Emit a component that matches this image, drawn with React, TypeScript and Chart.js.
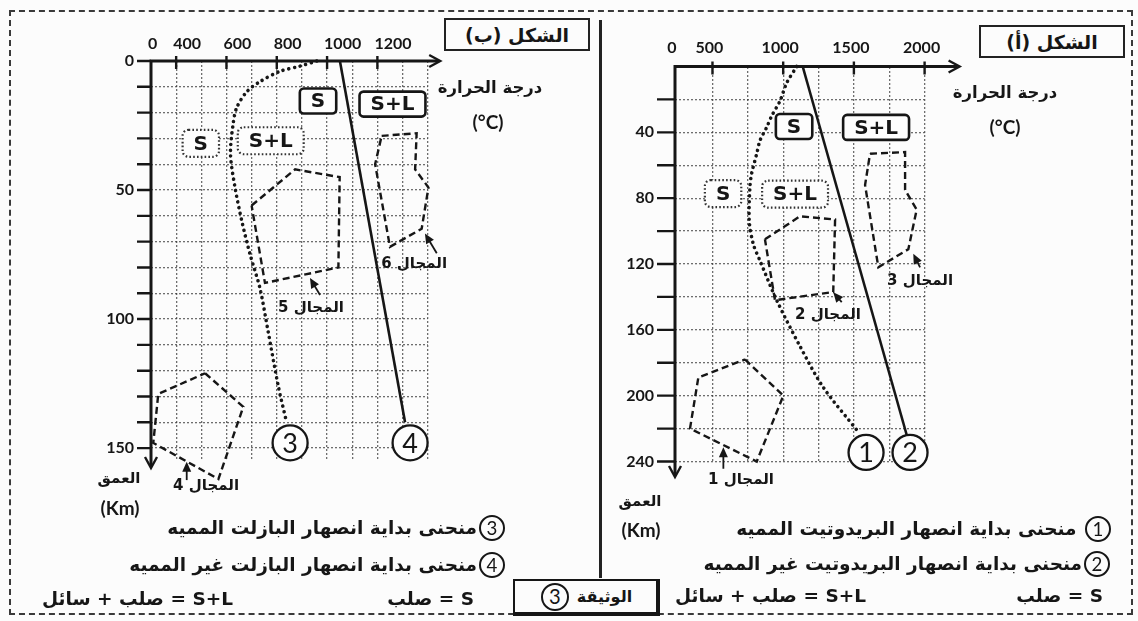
import React, { useEffect, useRef } from 'react';
import { Chart, registerables } from 'chart.js';

Chart.register(...registerables);

// ================= Figure (ب) : basalt =================
const xTicksB = [300, 400, 500, 600, 700, 800, 900, 1000, 1100, 1200, 1300, 1400];
const xLabelValsB = [300, 400, 600, 800, 1000, 1200];
const xLabelsB = ['0', '400', '600', '800', '1000', '1200'];
const xMarksB = [400, 600, 800, 1000, 1200];
const yTicksB = [0, 10, 20, 30, 40, 50, 60, 70, 80, 90, 100, 110, 120, 130, 140, 150];
const yLabelValsB = [0, 50, 100, 150];

// curve 3 : hydrated basalt solidus (dotted)
const curve3T = [959, 892, 813, 733, 680, 641, 627, 616, 634, 661, 694, 733, 766, 806, 839];
const curve3D = [0, 2, 4, 8, 12, 18, 24, 36, 49, 62, 75, 88, 105, 126, 140];
// curve 4 : dry basalt solidus (solid)
const line4T = [1051, 1310];
const line4D = [0, 140];
// zones
const zone4T = [515, 667, 568, 309, 329];
const zone4D = [121, 134, 162, 148, 129];
const zone5T = [700, 873, 1050, 1045, 753];
const zone5D = [56, 42, 45, 80, 86];
const zone6T = [1217, 1356, 1350, 1403, 1376, 1250, 1191];
const zone6D = [29, 28, 42, 49, 65, 72, 40];

const boxesB = [
  { text: 'S', t: 964, d: 15.5, dotted: false },
  { text: 'S+L', t: 1260, d: 16.7, dotted: false },
  { text: 'S', t: 498, d: 31.9, dotted: true },
  { text: 'S+L', t: 776, d: 30.9, dotted: true },
];
const circlesB = [
  { text: '3', t: 853, d: 148 },
  { text: '4', t: 1330, d: 148 },
];
const notesB = [
  { text: 'المجال 5', t: 936, d: 95.7, ft: 972, fd: 90.7, tt: 932, td: 84.1 },
  { text: 'المجال 6', t: 1346, d: 78.7, ft: 1436, fd: 74.5, tt: 1389, td: 66.8 },
  { text: 'المجال 4', t: 519, d: 164.7, ft: 442, fd: 162.4, tt: 442, td: 155.3 },
];

// ================= Figure (أ) : peridotite =================
const xTicksA = [235, 500, 750, 1000, 1250, 1500, 1750, 2000];
const xLabelValsA = [235, 500, 1000, 1500, 2000];
const xLabelsA = ['0', '500', '1000', '1500', '2000'];
const xMarksA = [500, 1000, 1500, 2000];
const yTicksA = [0, 20, 40, 60, 80, 100, 120, 140, 160, 180, 200, 220, 240];
const yLabelValsA = [40, 80, 120, 160, 200, 240];
const yMarksA = [20, 40, 60, 80, 100, 120, 140, 160, 180, 200, 220, 240];

// curve 1 : hydrated peridotite solidus (dotted)
const curve1T = [1096, 1025, 977, 919, 883, 836, 813, 777, 765, 760, 789, 836, 954, 1119, 1284, 1531];
const curve1D = [0, 10, 21, 30, 37, 45, 53, 65, 73, 94, 108, 118, 142, 170, 195, 222];
// curve 2 : dry peridotite solidus (solid)
const line2T = [1138, 1887];
const line2D = [0, 228];
// zones
const zone1T = [730, 1001, 813, 341, 400];
const zone1D = [178, 200, 240, 220, 189];
const zone2T = [871, 1119, 1367, 1354, 942];
const zone2D = [105, 91, 93, 137, 142];
const zone3T = [1614, 1862, 1862, 1944, 1885, 1673, 1579];
const zone3D = [53, 52, 75, 87, 111, 122, 72];

const boxesA = [
  { text: 'S', t: 1077, d: 36.5, dotted: false },
  { text: 'S+L', t: 1657, d: 37, dotted: false },
  { text: 'S', t: 575, d: 77.2, dotted: true },
  { text: 'S+L', t: 1084, d: 77.6, dotted: true },
];
const circlesA = [
  { text: '1', t: 1586, d: 234.5 },
  { text: '2', t: 1897, d: 234.5 },
];
const notesA = [
  { text: 'المجال 2', t: 1317, d: 151.3, ft: 1414, fd: 143.2, tt: 1354, td: 137.1 },
  { text: 'المجال 3', t: 1968, d: 130.6, ft: 1968, fd: 122, tt: 1920, td: 113.8 },
  { text: 'المجال 1', t: 702, d: 251.5, ft: 577, fd: 244.4, tt: 577, td: 231.3 },
];

// ================= styling =================
const INK = '#161616';
const GRID = 'rgba(50,50,50,0.7)';
const AR = '"DejaVu Sans", sans-serif';
const NUM = 'Lato, "DejaVu Sans", sans-serif';

const pts = (T: number[], D: number[], close = false) => {
  const p = T.map((t, i) => ({ x: t, y: D[i] }));
  if (close) p.push({ x: T[0], y: D[0] });
  return p;
};
const dottedCurve = (T: number[], D: number[]) => ({
  data: pts(T, D), showLine: true, pointRadius: 0, borderColor: INK, borderWidth: 3.6,
  borderDash: [0.01, 5.8], borderCapStyle: 'round', tension: 0.3, clip: false,
});
const solidLine = (T: number[], D: number[]) => ({
  data: pts(T, D), showLine: true, pointRadius: 0, borderColor: INK, borderWidth: 2.6,
  tension: 0, clip: false,
});
const dashedZone = (T: number[], D: number[]) => ({
  data: pts(T, D, true), showLine: true, pointRadius: 0, borderColor: INK, borderWidth: 2.4,
  borderDash: [7, 4], tension: 0, clip: false, borderJoinStyle: 'miter',
});

function decorPlugin(cfg: any) {
  return {
    id: 'decor' + cfg.key,
    afterDatasetsDraw(chart: any) {
      const { ctx, chartArea: a } = chart;
      const xs = chart.scales.x, ys = chart.scales.y;
      const px = (v: number) => xs.getPixelForValue(v);
      const py = (v: number) => ys.getPixelForValue(v);
      ctx.save();
      ctx.setLineDash([]);
      ctx.strokeStyle = INK;
      ctx.fillStyle = INK;
      // tick marks
      ctx.lineWidth = 2.4;
      ctx.beginPath();
      cfg.xMarks.forEach((v: number) => { const x = px(v); ctx.moveTo(x, a.top - 5); ctx.lineTo(x, a.top + 8); });
      cfg.yMarks.forEach((v: number) => { const y = py(v); ctx.moveTo(a.left - cfg.yTickLen, y); ctx.lineTo(a.left, y); });
      ctx.stroke();
      // axes
      const xe = a.right + cfg.extX, ye = a.bottom + cfg.extY;
      ctx.lineWidth = 3;
      ctx.beginPath();
      ctx.moveTo(a.left - 1.5, a.top); ctx.lineTo(xe - 2, a.top);
      ctx.moveTo(a.left, a.top - 1.5); ctx.lineTo(a.left, ye - 2);
      ctx.stroke();
      ctx.lineWidth = 2.4;
      ctx.beginPath(); ctx.moveTo(xe - 11, a.top - 6); ctx.lineTo(xe, a.top); ctx.lineTo(xe - 11, a.top + 6); ctx.stroke();
      ctx.beginPath(); ctx.moveTo(a.left - 6, ye - 11); ctx.lineTo(a.left, ye); ctx.lineTo(a.left + 6, ye - 11); ctx.stroke();
      // boxes
      ctx.font = 'bold 20px ' + AR;
      ctx.textAlign = 'center';
      ctx.textBaseline = 'middle';
      cfg.boxes.forEach((b: any) => {
        const cx = px(b.t), cy = py(b.d);
        const tw = ctx.measureText(b.text).width;
        const w = tw + 22, h = b.dotted ? 27 : 25;
        ctx.beginPath();
        ctx.roundRect(cx - w / 2, cy - h / 2, w, h, b.dotted ? 6 : 4);
        ctx.fillStyle = '#fdfdfd';
        ctx.fill();
        ctx.lineWidth = b.dotted ? 2.2 : 2.6;
        ctx.setLineDash(b.dotted ? [1.6, 2.2] : []);
        ctx.strokeStyle = b.dotted ? '#333' : INK;
        ctx.stroke();
        ctx.setLineDash([]);
        ctx.fillStyle = INK;
        ctx.fillText(b.text, cx, cy + 1);
      });
      // circles
      cfg.circles.forEach((c: any) => {
        const cx = px(c.t), cy = py(c.d);
        ctx.beginPath();
        ctx.arc(cx, cy, 17.5, 0, Math.PI * 2);
        ctx.fillStyle = '#fdfdfd';
        ctx.fill();
        ctx.lineWidth = 2.3;
        ctx.strokeStyle = INK;
        ctx.stroke();
        ctx.fillStyle = INK;
        ctx.font = '27px ' + NUM;
        ctx.fillText(c.text, cx, cy + 1);
      });
      // notes with arrows
      cfg.notes.forEach((n: any) => {
        ctx.font = 'bold 15px ' + AR;
        ctx.direction = 'rtl';
        ctx.fillStyle = INK;
        ctx.fillText(n.text, px(n.t), py(n.d));
        ctx.direction = 'ltr';
        const x1 = px(n.ft), y1 = py(n.fd), x2 = px(n.tt), y2 = py(n.td);
        const ang = Math.atan2(y2 - y1, x2 - x1);
        ctx.lineWidth = 1.8;
        ctx.beginPath(); ctx.moveTo(x1, y1); ctx.lineTo(x2 - Math.cos(ang) * 5, y2 - Math.sin(ang) * 5); ctx.stroke();
        ctx.beginPath();
        ctx.moveTo(x2, y2);
        ctx.lineTo(x2 - Math.cos(ang) * 10 + Math.sin(ang) * 4.5, y2 - Math.sin(ang) * 10 - Math.cos(ang) * 4.5);
        ctx.lineTo(x2 - Math.cos(ang) * 10 - Math.sin(ang) * 4.5, y2 - Math.sin(ang) * 10 + Math.cos(ang) * 4.5);
        ctx.closePath();
        ctx.fill();
      });
      ctx.restore();
    },
  };
}

function buildChart(canvas: HTMLCanvasElement, spec: any) {
  return new Chart(canvas, {
    type: 'scatter',
    data: { datasets: spec.datasets },
    options: {
      responsive: false,
      animation: false,
      events: [],
      layout: { padding: spec.padding },
      plugins: { legend: { display: false }, tooltip: { enabled: false } },
      scales: {
        x: {
          type: 'linear', position: 'top', min: spec.xMin, max: spec.xMax,
          afterBuildTicks: (s: any) => { s.ticks = spec.xTicks.map((v: number) => ({ value: v })); },
          afterFit: (s: any) => { s.height = 40; },
          grid: {
            color: (c: any) => (c.tick && c.tick.value === spec.xMin ? 'rgba(0,0,0,0)' : GRID),
            lineWidth: 1.3, drawTicks: false,
          },
          border: { display: false, dash: [2, 2] },
          ticks: {
            autoSkip: false, maxRotation: 0, minRotation: 0, padding: spec.xPad, align: spec.xAlign,
            labelOffset: spec.xLabelOffset, color: INK,
            font: { family: NUM, size: 16, weight: 'bold' },
            callback: (v: any) => { const i = spec.xLabelVals.indexOf(v); return i >= 0 ? spec.xLabels[i] : ''; },
          },
        },
        y: {
          type: 'linear', reverse: true, min: 0, max: spec.yMax,
          afterBuildTicks: (s: any) => { s.ticks = spec.yTicks.map((v: number) => ({ value: v })); },
          afterFit: (s: any) => { s.width = spec.yAxisW; },
          grid: {
            color: (c: any) => (c.tick && c.tick.value === 0 ? 'rgba(0,0,0,0)' : GRID),
            lineWidth: 1.3, drawTicks: false,
          },
          border: { display: false, dash: [2, 2] },
          ticks: {
            autoSkip: false, padding: spec.yPad, color: INK,
            font: { family: NUM, size: 16, weight: 'bold' },
            callback: (v: any) => (spec.yLabelVals.includes(v) ? String(v) : ''),
          },
        },
      },
    } as any,
    plugins: [decorPlugin(spec.decor)],
  } as any);
}

const Circ = ({ n, size = 26 }: { n: string; size?: number }) => (
  <span style={{
    display: 'inline-flex', alignItems: 'center', justifyContent: 'center', width: size, height: size,
    borderRadius: '50%', border: '2px solid #161616', boxSizing: 'border-box', fontFamily: NUM,
    fontWeight: 'normal', fontSize: size * 0.72, lineHeight: 1, verticalAlign: 'middle', margin: '0 0 0 2px',
    flex: '0 0 auto',
  }}>{n}</span>
);

const RText = ({ right, cy, size = 18.5, children }: any) => (
  <div style={{
    position: 'absolute', right: 1138 - right, top: cy, transform: 'translateY(-50%)', direction: 'rtl',
    whiteSpace: 'nowrap', fontFamily: AR, fontWeight: 'bold', fontSize: size, color: INK, lineHeight: 1,
    display: 'flex', alignItems: 'center',
  }}>{children}</div>
);

const CText = ({ cx, cy, size = 17, font = AR, dir = 'rtl', children }: any) => (
  <div style={{
    position: 'absolute', left: cx, top: cy, transform: 'translate(-50%,-50%)', direction: dir,
    whiteSpace: 'nowrap', fontFamily: font, fontWeight: 'bold', fontSize: size, color: INK, lineHeight: 1,
  }}>{children}</div>
);

export default function App() {
  const refB = useRef<HTMLCanvasElement>(null);
  const refA = useRef<HTMLCanvasElement>(null);

  useEffect(() => {
    const chartB = buildChart(refB.current!, {
      datasets: [
        dashedZone(zone4T, zone4D), dashedZone(zone5T, zone5D), dashedZone(zone6T, zone6D),
        dottedCurve(curve3T, curve3D), solidLine(line4T, line4D),
      ],
      padding: { left: 91, top: 21, right: 172.3, bottom: 160 },
      xMin: 300, xMax: 1400, xTicks: xTicksB, xLabelVals: xLabelValsB, xLabels: xLabelsB,
      xPad: 8, xAlign: 'start', xLabelOffset: -3,
      yMax: 155, yTicks: yTicksB, yLabelVals: yLabelValsB, yAxisW: 60, yPad: 17,
      decor: {
        key: 'B', xMarks: xMarksB, yMarks: yTicksB, yTickLen: 14, extX: 12.5, extY: 7,
        boxes: boxesB, circles: circlesB, notes: notesB,
      },
    });
    const chartA = buildChart(refA.current!, {
      datasets: [
        dashedZone(zone1T, zone1D), dashedZone(zone2T, zone2D), dashedZone(zone3T, zone3D),
        dottedCurve(curve1T, curve1D), solidLine(line2T, line2D),
      ],
      padding: { left: 25, top: 26.5, right: 213.4, bottom: 159.5 },
      xMin: 235, xMax: 2000, xTicks: xTicksA, xLabelVals: xLabelValsA, xLabels: xLabelsA,
      xPad: 9, xAlign: 'center', xLabelOffset: -3,
      yMax: 240, yTicks: yTicksA, yLabelVals: yLabelValsA, yAxisW: 50, yPad: 21,
      decor: {
        key: 'A', xMarks: xMarksA, yMarks: yMarksA, yTickLen: 18, extX: 35, extY: 15.5,
        boxes: boxesA, circles: circlesA, notes: notesA,
      },
    });
    return () => { chartB.destroy(); chartA.destroy(); };
  }, []);

  const titleBox = { position: 'absolute', width: 146, height: 33, border: '2.5px solid #222', boxSizing: 'border-box', display: 'flex', alignItems: 'center', justifyContent: 'center', fontFamily: AR, fontWeight: 'bold', fontSize: 19, direction: 'rtl', background: '#fcfcfc', color: INK } as any;

  return (
    <div style={{ position: 'absolute', left: 0, top: 0, width: 1138, height: 621, background: '#fcfcfc', overflow: 'hidden' }}>
      {/* frame */}
      <div style={{ position: 'absolute', left: 9, top: 10, width: 1124, height: 605, border: '2px dashed #3a3a3a', boxSizing: 'border-box' }} />
      <div style={{ position: 'absolute', left: 599, top: 20, width: 2.5, height: 558, background: '#222' }} />

      <canvas ref={refB} width={600} height={621} style={{ position: 'absolute', left: 0, top: 0, width: 600, height: 621 }} />
      <canvas ref={refA} width={538} height={621} style={{ position: 'absolute', left: 600, top: 0, width: 538, height: 621 }} />

      {/* titles */}
      <div style={{ ...titleBox, left: 444, top: 18 }}>الشكل (ب)</div>
      <div style={{ ...titleBox, left: 979, top: 25 }}>الشكل (أ)</div>

      {/* axis titles */}
      <CText cx={490} cy={88} size={16.5}>درجة الحرارة</CText>
      <CText cx={488} cy={121} size={19} font={NUM} dir="ltr">(°C)</CText>
      <CText cx={1005} cy={93} size={16.5}>درجة الحرارة</CText>
      <CText cx={1005} cy={126} size={19} font={NUM} dir="ltr">(°C)</CText>
      <CText cx={119} cy={478} size={15}>العمق</CText>
      <CText cx={120} cy={507} size={19} font={NUM} dir="ltr">(Km)</CText>
      <CText cx={640} cy={501} size={15}>العمق</CText>
      <CText cx={641} cy={529} size={19} font={NUM} dir="ltr">(Km)</CText>

      {/* legends left */}
      <RText right={505} cy={528}><Circ n="3" />منحنى بداية انصهار البازلت المميه</RText>
      <RText right={505} cy={565}><Circ n="4" />منحنى بداية انصهار البازلت غير المميه</RText>
      <RText right={474} cy={599}>S = صلب</RText>
      <RText right={233} cy={599}>S+L = صلب + سائل</RText>

      {/* legends right */}
      <RText right={1111} cy={529}><Circ n="1" />&nbsp;منحنى بداية انصهار البريدوتيت المميه</RText>
      <RText right={1110} cy={564}><Circ n="2" />منحنى بداية انصهار البريدوتيت غير المميه</RText>
      <RText right={1103} cy={596}>S = صلب</RText>
      <RText right={866} cy={596}>S+L = صلب + سائل</RText>

      {/* document label */}
      <div style={{ position: 'absolute', left: 513, top: 579, width: 147, height: 37, borderStyle: 'solid', borderColor: '#161616', borderWidth: '2px 4px 4px 2px', boxSizing: 'border-box', background: '#fcfcfc', display: 'flex', alignItems: 'center', justifyContent: 'center', direction: 'rtl', fontFamily: AR, fontWeight: 'bold', fontSize: 16, gap: 8, color: INK }}>
        <span>الوثيقة</span><Circ n="3" size={28} />
      </div>
    </div>
  );
}
